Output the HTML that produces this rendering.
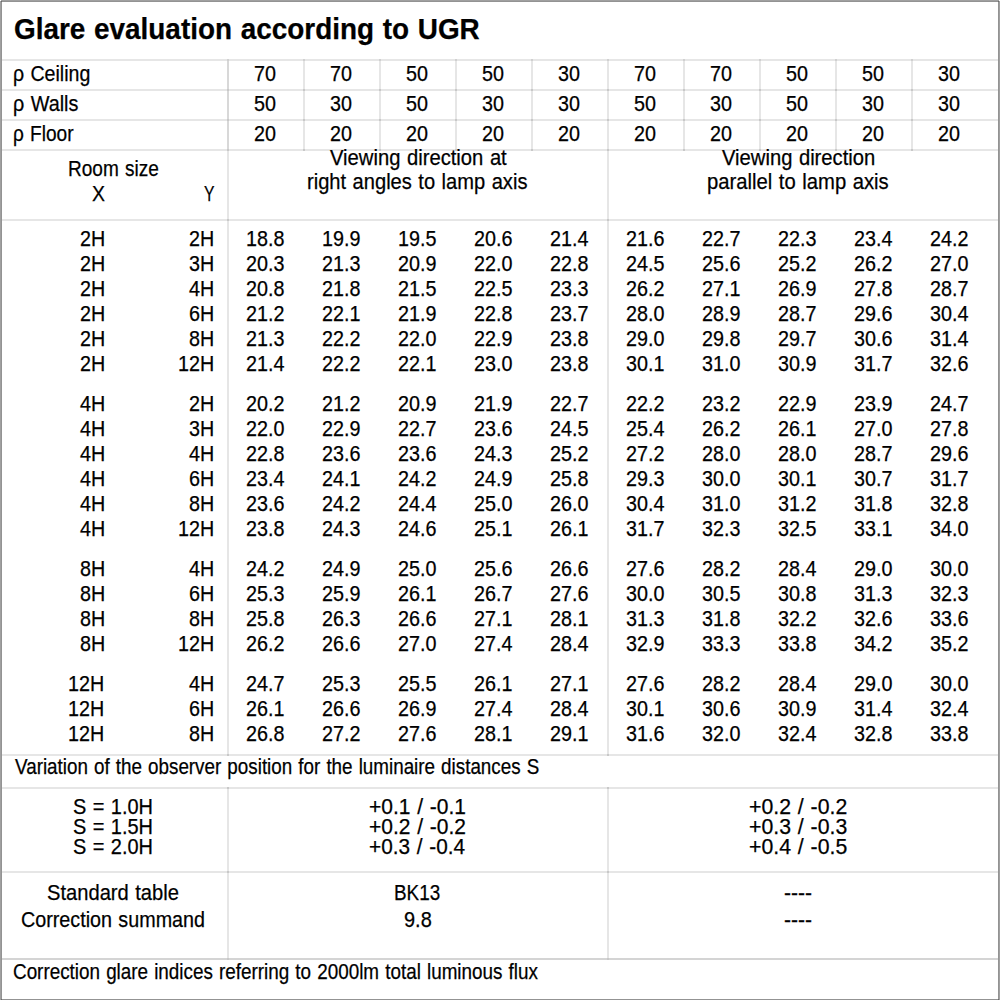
<!DOCTYPE html>
<html><head><meta charset="utf-8"><title>Glare evaluation according to UGR</title>
<style>
html,body{margin:0;padding:0;background:#fff;}
body{width:1000px;height:1000px;position:relative;overflow:hidden;font-family:"Liberation Sans",sans-serif;font-size:22px;line-height:22px;color:#000;}
.t{position:absolute;white-space:nowrap;transform-origin:0 0;-webkit-text-stroke:0.25px #000;word-spacing:1px;}
.l{position:absolute;}
</style></head><body>
<div class="l" style="left:1px;top:0;width:998px;height:1px;background:#a0a0a0"></div>
<div class="l" style="left:0;top:1px;width:1px;height:999px;background:#a0a0a0"></div>
<div class="l" style="left:999px;top:1px;width:1px;height:999px;background:#a0a0a0"></div>
<div class="l" style="left:2px;top:1px;width:996px;height:1px;background:#939393"></div>
<div class="l" style="left:1px;top:1px;width:1px;height:999px;background:#939393"></div>
<div class="l" style="left:998px;top:1px;width:1px;height:999px;background:#939393"></div>
<div class="l" style="left:2px;top:999px;width:996px;height:1px;background:#939393"></div>
<div class="l" style="left:1px;top:1px;width:1px;height:1px;background:#6a6a6a"></div>
<div class="l" style="left:998px;top:1px;width:1px;height:1px;background:#6a6a6a"></div>
<div class="l" style="left:1px;top:999px;width:1px;height:1px;background:#6a6a6a"></div>
<div class="l" style="left:998px;top:999px;width:1px;height:1px;background:#6a6a6a"></div>
<div class="l" style="left:2px;top:59px;width:996px;height:2px;background:#e6e6e6"></div>
<div class="l" style="left:2px;top:89px;width:996px;height:2px;background:#e6e6e6"></div>
<div class="l" style="left:2px;top:119px;width:996px;height:2px;background:#e6e6e6"></div>
<div class="l" style="left:2px;top:149px;width:996px;height:2px;background:#e6e6e6"></div>
<div class="l" style="left:2px;top:219px;width:996px;height:2px;background:#e6e6e6"></div>
<div class="l" style="left:2px;top:754px;width:996px;height:2px;background:#e6e6e6"></div>
<div class="l" style="left:2px;top:787px;width:996px;height:2px;background:#e6e6e6"></div>
<div class="l" style="left:2px;top:871px;width:996px;height:2px;background:#e6e6e6"></div>
<div class="l" style="left:2px;top:958px;width:996px;height:2px;background:#d4d4d4"></div>
<div class="l" style="left:227px;top:61px;width:2px;height:88px;background:#d8d8d8"></div>
<div class="l" style="left:227px;top:149px;width:2px;height:605px;background:#e6e6e6"></div>
<div class="l" style="left:227px;top:789px;width:2px;height:169px;background:#e6e6e6"></div>
<div class="l" style="left:607px;top:61px;width:2px;height:693px;background:#e6e6e6"></div>
<div class="l" style="left:607px;top:789px;width:2px;height:169px;background:#e6e6e6"></div>
<div class="l" style="left:303px;top:61px;width:2px;height:88px;background:#e6e6e6"></div>
<div class="l" style="left:379px;top:61px;width:2px;height:88px;background:#e6e6e6"></div>
<div class="l" style="left:455px;top:61px;width:2px;height:88px;background:#e6e6e6"></div>
<div class="l" style="left:531px;top:61px;width:2px;height:88px;background:#e6e6e6"></div>
<div class="l" style="left:683px;top:61px;width:2px;height:88px;background:#e6e6e6"></div>
<div class="l" style="left:759px;top:61px;width:2px;height:88px;background:#e6e6e6"></div>
<div class="l" style="left:835px;top:61px;width:2px;height:88px;background:#e6e6e6"></div>
<div class="l" style="left:911px;top:61px;width:2px;height:88px;background:#e6e6e6"></div>
<div class="l" style="left:227px;top:59px;width:2px;height:2px;background:#d0d0d0"></div>
<div class="l" style="left:227px;top:89px;width:2px;height:2px;background:#c8c8c8"></div>
<div class="l" style="left:227px;top:119px;width:2px;height:2px;background:#c8c8c8"></div>
<div class="l" style="left:227px;top:149px;width:2px;height:2px;background:#c8c8c8"></div>
<div class="l" style="left:303px;top:59px;width:2px;height:2px;background:#d0d0d0"></div>
<div class="l" style="left:303px;top:89px;width:2px;height:2px;background:#c8c8c8"></div>
<div class="l" style="left:303px;top:119px;width:2px;height:2px;background:#c8c8c8"></div>
<div class="l" style="left:303px;top:149px;width:2px;height:2px;background:#c8c8c8"></div>
<div class="l" style="left:379px;top:59px;width:2px;height:2px;background:#d0d0d0"></div>
<div class="l" style="left:379px;top:89px;width:2px;height:2px;background:#c8c8c8"></div>
<div class="l" style="left:379px;top:119px;width:2px;height:2px;background:#c8c8c8"></div>
<div class="l" style="left:379px;top:149px;width:2px;height:2px;background:#c8c8c8"></div>
<div class="l" style="left:455px;top:59px;width:2px;height:2px;background:#d0d0d0"></div>
<div class="l" style="left:455px;top:89px;width:2px;height:2px;background:#c8c8c8"></div>
<div class="l" style="left:455px;top:119px;width:2px;height:2px;background:#c8c8c8"></div>
<div class="l" style="left:455px;top:149px;width:2px;height:2px;background:#c8c8c8"></div>
<div class="l" style="left:531px;top:59px;width:2px;height:2px;background:#d0d0d0"></div>
<div class="l" style="left:531px;top:89px;width:2px;height:2px;background:#c8c8c8"></div>
<div class="l" style="left:531px;top:119px;width:2px;height:2px;background:#c8c8c8"></div>
<div class="l" style="left:531px;top:149px;width:2px;height:2px;background:#c8c8c8"></div>
<div class="l" style="left:607px;top:59px;width:2px;height:2px;background:#d0d0d0"></div>
<div class="l" style="left:607px;top:89px;width:2px;height:2px;background:#c8c8c8"></div>
<div class="l" style="left:607px;top:119px;width:2px;height:2px;background:#c8c8c8"></div>
<div class="l" style="left:607px;top:149px;width:2px;height:2px;background:#c8c8c8"></div>
<div class="l" style="left:683px;top:59px;width:2px;height:2px;background:#d0d0d0"></div>
<div class="l" style="left:683px;top:89px;width:2px;height:2px;background:#c8c8c8"></div>
<div class="l" style="left:683px;top:119px;width:2px;height:2px;background:#c8c8c8"></div>
<div class="l" style="left:683px;top:149px;width:2px;height:2px;background:#c8c8c8"></div>
<div class="l" style="left:759px;top:59px;width:2px;height:2px;background:#d0d0d0"></div>
<div class="l" style="left:759px;top:89px;width:2px;height:2px;background:#c8c8c8"></div>
<div class="l" style="left:759px;top:119px;width:2px;height:2px;background:#c8c8c8"></div>
<div class="l" style="left:759px;top:149px;width:2px;height:2px;background:#c8c8c8"></div>
<div class="l" style="left:835px;top:59px;width:2px;height:2px;background:#d0d0d0"></div>
<div class="l" style="left:835px;top:89px;width:2px;height:2px;background:#c8c8c8"></div>
<div class="l" style="left:835px;top:119px;width:2px;height:2px;background:#c8c8c8"></div>
<div class="l" style="left:835px;top:149px;width:2px;height:2px;background:#c8c8c8"></div>
<div class="l" style="left:911px;top:59px;width:2px;height:2px;background:#d0d0d0"></div>
<div class="l" style="left:911px;top:89px;width:2px;height:2px;background:#c8c8c8"></div>
<div class="l" style="left:911px;top:119px;width:2px;height:2px;background:#c8c8c8"></div>
<div class="l" style="left:911px;top:149px;width:2px;height:2px;background:#c8c8c8"></div>
<div class="l" style="left:227px;top:219px;width:2px;height:2px;background:#c8c8c8"></div>
<div class="l" style="left:227px;top:754px;width:2px;height:2px;background:#c8c8c8"></div>
<div class="l" style="left:227px;top:787px;width:2px;height:2px;background:#c8c8c8"></div>
<div class="l" style="left:227px;top:871px;width:2px;height:2px;background:#c8c8c8"></div>
<div class="l" style="left:227px;top:958px;width:2px;height:2px;background:#c8c8c8"></div>
<div class="l" style="left:607px;top:219px;width:2px;height:2px;background:#c8c8c8"></div>
<div class="l" style="left:607px;top:754px;width:2px;height:2px;background:#c8c8c8"></div>
<div class="l" style="left:607px;top:787px;width:2px;height:2px;background:#c8c8c8"></div>
<div class="l" style="left:607px;top:871px;width:2px;height:2px;background:#c8c8c8"></div>
<div class="l" style="left:607px;top:958px;width:2px;height:2px;background:#c8c8c8"></div>
<div class="t" style="top:14.50px;font-size:29px;line-height:29px;font-weight:bold;left:14.04px;transform:scaleX(0.9619);">Glare evaluation according to UGR</div>
<div class="t" style="top:62.50px;left:12.82px;transform:scaleX(0.8894);">ρ Ceiling</div>
<div class="t" style="top:92.50px;left:12.81px;transform:scaleX(0.9007);">ρ Walls</div>
<div class="t" style="top:122.50px;left:12.85px;transform:scaleX(0.8674);">ρ Floor</div>
<div class="t" style="top:62.50px;left:254.31px;transform:scaleX(0.8976);">70</div>
<div class="t" style="top:62.50px;left:330.31px;transform:scaleX(0.8976);">70</div>
<div class="t" style="top:62.50px;left:406.31px;transform:scaleX(0.8976);">50</div>
<div class="t" style="top:62.50px;left:482.31px;transform:scaleX(0.8976);">50</div>
<div class="t" style="top:62.50px;left:558.31px;transform:scaleX(0.8976);">30</div>
<div class="t" style="top:62.50px;left:634.31px;transform:scaleX(0.8976);">70</div>
<div class="t" style="top:62.50px;left:710.31px;transform:scaleX(0.8976);">70</div>
<div class="t" style="top:62.50px;left:786.31px;transform:scaleX(0.8976);">50</div>
<div class="t" style="top:62.50px;left:862.31px;transform:scaleX(0.8976);">50</div>
<div class="t" style="top:62.50px;left:938.31px;transform:scaleX(0.8976);">30</div>
<div class="t" style="top:92.50px;left:254.31px;transform:scaleX(0.8976);">50</div>
<div class="t" style="top:92.50px;left:330.31px;transform:scaleX(0.8976);">30</div>
<div class="t" style="top:92.50px;left:406.31px;transform:scaleX(0.8976);">50</div>
<div class="t" style="top:92.50px;left:482.31px;transform:scaleX(0.8976);">30</div>
<div class="t" style="top:92.50px;left:558.31px;transform:scaleX(0.8976);">30</div>
<div class="t" style="top:92.50px;left:634.31px;transform:scaleX(0.8976);">50</div>
<div class="t" style="top:92.50px;left:710.31px;transform:scaleX(0.8976);">30</div>
<div class="t" style="top:92.50px;left:786.31px;transform:scaleX(0.8976);">50</div>
<div class="t" style="top:92.50px;left:862.31px;transform:scaleX(0.8976);">30</div>
<div class="t" style="top:92.50px;left:938.31px;transform:scaleX(0.8976);">30</div>
<div class="t" style="top:122.50px;left:254.31px;transform:scaleX(0.8976);">20</div>
<div class="t" style="top:122.50px;left:330.31px;transform:scaleX(0.8976);">20</div>
<div class="t" style="top:122.50px;left:406.31px;transform:scaleX(0.8976);">20</div>
<div class="t" style="top:122.50px;left:482.31px;transform:scaleX(0.8976);">20</div>
<div class="t" style="top:122.50px;left:558.31px;transform:scaleX(0.8976);">20</div>
<div class="t" style="top:122.50px;left:634.31px;transform:scaleX(0.8976);">20</div>
<div class="t" style="top:122.50px;left:710.31px;transform:scaleX(0.8976);">20</div>
<div class="t" style="top:122.50px;left:786.31px;transform:scaleX(0.8976);">20</div>
<div class="t" style="top:122.50px;left:862.31px;transform:scaleX(0.8976);">20</div>
<div class="t" style="top:122.50px;left:938.31px;transform:scaleX(0.8976);">20</div>
<div class="t" style="top:157.50px;left:67.76px;transform:scaleX(0.8650);">Room size</div>
<div class="t" style="top:182.50px;left:92.12px;transform:scaleX(0.8846);">X</div>
<div class="t" style="top:182.50px;left:204.00px;transform:scaleX(0.7143);">Y</div>
<div class="t" style="top:146.50px;left:330.00px;transform:scaleX(0.9187);">Viewing direction at</div>
<div class="t" style="top:170.50px;left:306.93px;transform:scaleX(0.9138);">right angles to lamp axis</div>
<div class="t" style="top:146.50px;left:722.00px;transform:scaleX(0.9181);">Viewing direction</div>
<div class="t" style="top:170.50px;left:707.08px;transform:scaleX(0.9204);">parallel to lamp axis</div>
<div class="t" style="top:227.50px;left:79.71px;transform:scaleX(0.8976);">2H</div>
<div class="t" style="top:227.50px;left:188.77px;transform:scaleX(0.8976);">2H</div>
<div class="t" style="top:227.50px;left:246.08px;transform:scaleX(0.8976);">18.8</div>
<div class="t" style="top:227.50px;left:322.08px;transform:scaleX(0.8976);">19.9</div>
<div class="t" style="top:227.50px;left:398.08px;transform:scaleX(0.8976);">19.5</div>
<div class="t" style="top:227.50px;left:474.08px;transform:scaleX(0.8976);">20.6</div>
<div class="t" style="top:227.50px;left:550.08px;transform:scaleX(0.8976);">21.4</div>
<div class="t" style="top:227.50px;left:626.08px;transform:scaleX(0.8976);">21.6</div>
<div class="t" style="top:227.50px;left:702.08px;transform:scaleX(0.8976);">22.7</div>
<div class="t" style="top:227.50px;left:778.08px;transform:scaleX(0.8976);">22.3</div>
<div class="t" style="top:227.50px;left:854.08px;transform:scaleX(0.8976);">23.4</div>
<div class="t" style="top:227.50px;left:930.08px;transform:scaleX(0.8976);">24.2</div>
<div class="t" style="top:252.50px;left:79.71px;transform:scaleX(0.8976);">2H</div>
<div class="t" style="top:252.50px;left:188.77px;transform:scaleX(0.8976);">3H</div>
<div class="t" style="top:252.50px;left:246.08px;transform:scaleX(0.8976);">20.3</div>
<div class="t" style="top:252.50px;left:322.08px;transform:scaleX(0.8976);">21.3</div>
<div class="t" style="top:252.50px;left:398.08px;transform:scaleX(0.8976);">20.9</div>
<div class="t" style="top:252.50px;left:474.08px;transform:scaleX(0.8976);">22.0</div>
<div class="t" style="top:252.50px;left:550.08px;transform:scaleX(0.8976);">22.8</div>
<div class="t" style="top:252.50px;left:626.08px;transform:scaleX(0.8976);">24.5</div>
<div class="t" style="top:252.50px;left:702.08px;transform:scaleX(0.8976);">25.6</div>
<div class="t" style="top:252.50px;left:778.08px;transform:scaleX(0.8976);">25.2</div>
<div class="t" style="top:252.50px;left:854.08px;transform:scaleX(0.8976);">26.2</div>
<div class="t" style="top:252.50px;left:930.08px;transform:scaleX(0.8976);">27.0</div>
<div class="t" style="top:277.50px;left:79.71px;transform:scaleX(0.8976);">2H</div>
<div class="t" style="top:277.50px;left:188.77px;transform:scaleX(0.8976);">4H</div>
<div class="t" style="top:277.50px;left:246.08px;transform:scaleX(0.8976);">20.8</div>
<div class="t" style="top:277.50px;left:322.08px;transform:scaleX(0.8976);">21.8</div>
<div class="t" style="top:277.50px;left:398.08px;transform:scaleX(0.8976);">21.5</div>
<div class="t" style="top:277.50px;left:474.08px;transform:scaleX(0.8976);">22.5</div>
<div class="t" style="top:277.50px;left:550.08px;transform:scaleX(0.8976);">23.3</div>
<div class="t" style="top:277.50px;left:626.08px;transform:scaleX(0.8976);">26.2</div>
<div class="t" style="top:277.50px;left:702.08px;transform:scaleX(0.8976);">27.1</div>
<div class="t" style="top:277.50px;left:778.08px;transform:scaleX(0.8976);">26.9</div>
<div class="t" style="top:277.50px;left:854.08px;transform:scaleX(0.8976);">27.8</div>
<div class="t" style="top:277.50px;left:930.08px;transform:scaleX(0.8976);">28.7</div>
<div class="t" style="top:302.50px;left:79.71px;transform:scaleX(0.8976);">2H</div>
<div class="t" style="top:302.50px;left:188.77px;transform:scaleX(0.8976);">6H</div>
<div class="t" style="top:302.50px;left:246.08px;transform:scaleX(0.8976);">21.2</div>
<div class="t" style="top:302.50px;left:322.08px;transform:scaleX(0.8976);">22.1</div>
<div class="t" style="top:302.50px;left:398.08px;transform:scaleX(0.8976);">21.9</div>
<div class="t" style="top:302.50px;left:474.08px;transform:scaleX(0.8976);">22.8</div>
<div class="t" style="top:302.50px;left:550.08px;transform:scaleX(0.8976);">23.7</div>
<div class="t" style="top:302.50px;left:626.08px;transform:scaleX(0.8976);">28.0</div>
<div class="t" style="top:302.50px;left:702.08px;transform:scaleX(0.8976);">28.9</div>
<div class="t" style="top:302.50px;left:778.08px;transform:scaleX(0.8976);">28.7</div>
<div class="t" style="top:302.50px;left:854.08px;transform:scaleX(0.8976);">29.6</div>
<div class="t" style="top:302.50px;left:930.08px;transform:scaleX(0.8976);">30.4</div>
<div class="t" style="top:327.50px;left:79.71px;transform:scaleX(0.8976);">2H</div>
<div class="t" style="top:327.50px;left:188.77px;transform:scaleX(0.8976);">8H</div>
<div class="t" style="top:327.50px;left:246.08px;transform:scaleX(0.8976);">21.3</div>
<div class="t" style="top:327.50px;left:322.08px;transform:scaleX(0.8976);">22.2</div>
<div class="t" style="top:327.50px;left:398.08px;transform:scaleX(0.8976);">22.0</div>
<div class="t" style="top:327.50px;left:474.08px;transform:scaleX(0.8976);">22.9</div>
<div class="t" style="top:327.50px;left:550.08px;transform:scaleX(0.8976);">23.8</div>
<div class="t" style="top:327.50px;left:626.08px;transform:scaleX(0.8976);">29.0</div>
<div class="t" style="top:327.50px;left:702.08px;transform:scaleX(0.8976);">29.8</div>
<div class="t" style="top:327.50px;left:778.08px;transform:scaleX(0.8976);">29.7</div>
<div class="t" style="top:327.50px;left:854.08px;transform:scaleX(0.8976);">30.6</div>
<div class="t" style="top:327.50px;left:930.08px;transform:scaleX(0.8976);">31.4</div>
<div class="t" style="top:352.50px;left:79.71px;transform:scaleX(0.8976);">2H</div>
<div class="t" style="top:352.50px;left:178.00px;transform:scaleX(0.8976);">12H</div>
<div class="t" style="top:352.50px;left:246.08px;transform:scaleX(0.8976);">21.4</div>
<div class="t" style="top:352.50px;left:322.08px;transform:scaleX(0.8976);">22.2</div>
<div class="t" style="top:352.50px;left:398.08px;transform:scaleX(0.8976);">22.1</div>
<div class="t" style="top:352.50px;left:474.08px;transform:scaleX(0.8976);">23.0</div>
<div class="t" style="top:352.50px;left:550.08px;transform:scaleX(0.8976);">23.8</div>
<div class="t" style="top:352.50px;left:626.08px;transform:scaleX(0.8976);">30.1</div>
<div class="t" style="top:352.50px;left:702.08px;transform:scaleX(0.8976);">31.0</div>
<div class="t" style="top:352.50px;left:778.08px;transform:scaleX(0.8976);">30.9</div>
<div class="t" style="top:352.50px;left:854.08px;transform:scaleX(0.8976);">31.7</div>
<div class="t" style="top:352.50px;left:930.08px;transform:scaleX(0.8976);">32.6</div>
<div class="t" style="top:392.50px;left:79.71px;transform:scaleX(0.8976);">4H</div>
<div class="t" style="top:392.50px;left:188.77px;transform:scaleX(0.8976);">2H</div>
<div class="t" style="top:392.50px;left:246.08px;transform:scaleX(0.8976);">20.2</div>
<div class="t" style="top:392.50px;left:322.08px;transform:scaleX(0.8976);">21.2</div>
<div class="t" style="top:392.50px;left:398.08px;transform:scaleX(0.8976);">20.9</div>
<div class="t" style="top:392.50px;left:474.08px;transform:scaleX(0.8976);">21.9</div>
<div class="t" style="top:392.50px;left:550.08px;transform:scaleX(0.8976);">22.7</div>
<div class="t" style="top:392.50px;left:626.08px;transform:scaleX(0.8976);">22.2</div>
<div class="t" style="top:392.50px;left:702.08px;transform:scaleX(0.8976);">23.2</div>
<div class="t" style="top:392.50px;left:778.08px;transform:scaleX(0.8976);">22.9</div>
<div class="t" style="top:392.50px;left:854.08px;transform:scaleX(0.8976);">23.9</div>
<div class="t" style="top:392.50px;left:930.08px;transform:scaleX(0.8976);">24.7</div>
<div class="t" style="top:417.50px;left:79.71px;transform:scaleX(0.8976);">4H</div>
<div class="t" style="top:417.50px;left:188.77px;transform:scaleX(0.8976);">3H</div>
<div class="t" style="top:417.50px;left:246.08px;transform:scaleX(0.8976);">22.0</div>
<div class="t" style="top:417.50px;left:322.08px;transform:scaleX(0.8976);">22.9</div>
<div class="t" style="top:417.50px;left:398.08px;transform:scaleX(0.8976);">22.7</div>
<div class="t" style="top:417.50px;left:474.08px;transform:scaleX(0.8976);">23.6</div>
<div class="t" style="top:417.50px;left:550.08px;transform:scaleX(0.8976);">24.5</div>
<div class="t" style="top:417.50px;left:626.08px;transform:scaleX(0.8976);">25.4</div>
<div class="t" style="top:417.50px;left:702.08px;transform:scaleX(0.8976);">26.2</div>
<div class="t" style="top:417.50px;left:778.08px;transform:scaleX(0.8976);">26.1</div>
<div class="t" style="top:417.50px;left:854.08px;transform:scaleX(0.8976);">27.0</div>
<div class="t" style="top:417.50px;left:930.08px;transform:scaleX(0.8976);">27.8</div>
<div class="t" style="top:442.50px;left:79.71px;transform:scaleX(0.8976);">4H</div>
<div class="t" style="top:442.50px;left:188.77px;transform:scaleX(0.8976);">4H</div>
<div class="t" style="top:442.50px;left:246.08px;transform:scaleX(0.8976);">22.8</div>
<div class="t" style="top:442.50px;left:322.08px;transform:scaleX(0.8976);">23.6</div>
<div class="t" style="top:442.50px;left:398.08px;transform:scaleX(0.8976);">23.6</div>
<div class="t" style="top:442.50px;left:474.08px;transform:scaleX(0.8976);">24.3</div>
<div class="t" style="top:442.50px;left:550.08px;transform:scaleX(0.8976);">25.2</div>
<div class="t" style="top:442.50px;left:626.08px;transform:scaleX(0.8976);">27.2</div>
<div class="t" style="top:442.50px;left:702.08px;transform:scaleX(0.8976);">28.0</div>
<div class="t" style="top:442.50px;left:778.08px;transform:scaleX(0.8976);">28.0</div>
<div class="t" style="top:442.50px;left:854.08px;transform:scaleX(0.8976);">28.7</div>
<div class="t" style="top:442.50px;left:930.08px;transform:scaleX(0.8976);">29.6</div>
<div class="t" style="top:467.50px;left:79.71px;transform:scaleX(0.8976);">4H</div>
<div class="t" style="top:467.50px;left:188.77px;transform:scaleX(0.8976);">6H</div>
<div class="t" style="top:467.50px;left:246.08px;transform:scaleX(0.8976);">23.4</div>
<div class="t" style="top:467.50px;left:322.08px;transform:scaleX(0.8976);">24.1</div>
<div class="t" style="top:467.50px;left:398.08px;transform:scaleX(0.8976);">24.2</div>
<div class="t" style="top:467.50px;left:474.08px;transform:scaleX(0.8976);">24.9</div>
<div class="t" style="top:467.50px;left:550.08px;transform:scaleX(0.8976);">25.8</div>
<div class="t" style="top:467.50px;left:626.08px;transform:scaleX(0.8976);">29.3</div>
<div class="t" style="top:467.50px;left:702.08px;transform:scaleX(0.8976);">30.0</div>
<div class="t" style="top:467.50px;left:778.08px;transform:scaleX(0.8976);">30.1</div>
<div class="t" style="top:467.50px;left:854.08px;transform:scaleX(0.8976);">30.7</div>
<div class="t" style="top:467.50px;left:930.08px;transform:scaleX(0.8976);">31.7</div>
<div class="t" style="top:492.50px;left:79.71px;transform:scaleX(0.8976);">4H</div>
<div class="t" style="top:492.50px;left:188.77px;transform:scaleX(0.8976);">8H</div>
<div class="t" style="top:492.50px;left:246.08px;transform:scaleX(0.8976);">23.6</div>
<div class="t" style="top:492.50px;left:322.08px;transform:scaleX(0.8976);">24.2</div>
<div class="t" style="top:492.50px;left:398.08px;transform:scaleX(0.8976);">24.4</div>
<div class="t" style="top:492.50px;left:474.08px;transform:scaleX(0.8976);">25.0</div>
<div class="t" style="top:492.50px;left:550.08px;transform:scaleX(0.8976);">26.0</div>
<div class="t" style="top:492.50px;left:626.08px;transform:scaleX(0.8976);">30.4</div>
<div class="t" style="top:492.50px;left:702.08px;transform:scaleX(0.8976);">31.0</div>
<div class="t" style="top:492.50px;left:778.08px;transform:scaleX(0.8976);">31.2</div>
<div class="t" style="top:492.50px;left:854.08px;transform:scaleX(0.8976);">31.8</div>
<div class="t" style="top:492.50px;left:930.08px;transform:scaleX(0.8976);">32.8</div>
<div class="t" style="top:517.50px;left:79.71px;transform:scaleX(0.8976);">4H</div>
<div class="t" style="top:517.50px;left:178.00px;transform:scaleX(0.8976);">12H</div>
<div class="t" style="top:517.50px;left:246.08px;transform:scaleX(0.8976);">23.8</div>
<div class="t" style="top:517.50px;left:322.08px;transform:scaleX(0.8976);">24.3</div>
<div class="t" style="top:517.50px;left:398.08px;transform:scaleX(0.8976);">24.6</div>
<div class="t" style="top:517.50px;left:474.08px;transform:scaleX(0.8976);">25.1</div>
<div class="t" style="top:517.50px;left:550.08px;transform:scaleX(0.8976);">26.1</div>
<div class="t" style="top:517.50px;left:626.08px;transform:scaleX(0.8976);">31.7</div>
<div class="t" style="top:517.50px;left:702.08px;transform:scaleX(0.8976);">32.3</div>
<div class="t" style="top:517.50px;left:778.08px;transform:scaleX(0.8976);">32.5</div>
<div class="t" style="top:517.50px;left:854.08px;transform:scaleX(0.8976);">33.1</div>
<div class="t" style="top:517.50px;left:930.08px;transform:scaleX(0.8976);">34.0</div>
<div class="t" style="top:557.50px;left:79.71px;transform:scaleX(0.8976);">8H</div>
<div class="t" style="top:557.50px;left:188.77px;transform:scaleX(0.8976);">4H</div>
<div class="t" style="top:557.50px;left:246.08px;transform:scaleX(0.8976);">24.2</div>
<div class="t" style="top:557.50px;left:322.08px;transform:scaleX(0.8976);">24.9</div>
<div class="t" style="top:557.50px;left:398.08px;transform:scaleX(0.8976);">25.0</div>
<div class="t" style="top:557.50px;left:474.08px;transform:scaleX(0.8976);">25.6</div>
<div class="t" style="top:557.50px;left:550.08px;transform:scaleX(0.8976);">26.6</div>
<div class="t" style="top:557.50px;left:626.08px;transform:scaleX(0.8976);">27.6</div>
<div class="t" style="top:557.50px;left:702.08px;transform:scaleX(0.8976);">28.2</div>
<div class="t" style="top:557.50px;left:778.08px;transform:scaleX(0.8976);">28.4</div>
<div class="t" style="top:557.50px;left:854.08px;transform:scaleX(0.8976);">29.0</div>
<div class="t" style="top:557.50px;left:930.08px;transform:scaleX(0.8976);">30.0</div>
<div class="t" style="top:582.50px;left:79.71px;transform:scaleX(0.8976);">8H</div>
<div class="t" style="top:582.50px;left:188.77px;transform:scaleX(0.8976);">6H</div>
<div class="t" style="top:582.50px;left:246.08px;transform:scaleX(0.8976);">25.3</div>
<div class="t" style="top:582.50px;left:322.08px;transform:scaleX(0.8976);">25.9</div>
<div class="t" style="top:582.50px;left:398.08px;transform:scaleX(0.8976);">26.1</div>
<div class="t" style="top:582.50px;left:474.08px;transform:scaleX(0.8976);">26.7</div>
<div class="t" style="top:582.50px;left:550.08px;transform:scaleX(0.8976);">27.6</div>
<div class="t" style="top:582.50px;left:626.08px;transform:scaleX(0.8976);">30.0</div>
<div class="t" style="top:582.50px;left:702.08px;transform:scaleX(0.8976);">30.5</div>
<div class="t" style="top:582.50px;left:778.08px;transform:scaleX(0.8976);">30.8</div>
<div class="t" style="top:582.50px;left:854.08px;transform:scaleX(0.8976);">31.3</div>
<div class="t" style="top:582.50px;left:930.08px;transform:scaleX(0.8976);">32.3</div>
<div class="t" style="top:607.50px;left:79.71px;transform:scaleX(0.8976);">8H</div>
<div class="t" style="top:607.50px;left:188.77px;transform:scaleX(0.8976);">8H</div>
<div class="t" style="top:607.50px;left:246.08px;transform:scaleX(0.8976);">25.8</div>
<div class="t" style="top:607.50px;left:322.08px;transform:scaleX(0.8976);">26.3</div>
<div class="t" style="top:607.50px;left:398.08px;transform:scaleX(0.8976);">26.6</div>
<div class="t" style="top:607.50px;left:474.08px;transform:scaleX(0.8976);">27.1</div>
<div class="t" style="top:607.50px;left:550.08px;transform:scaleX(0.8976);">28.1</div>
<div class="t" style="top:607.50px;left:626.08px;transform:scaleX(0.8976);">31.3</div>
<div class="t" style="top:607.50px;left:702.08px;transform:scaleX(0.8976);">31.8</div>
<div class="t" style="top:607.50px;left:778.08px;transform:scaleX(0.8976);">32.2</div>
<div class="t" style="top:607.50px;left:854.08px;transform:scaleX(0.8976);">32.6</div>
<div class="t" style="top:607.50px;left:930.08px;transform:scaleX(0.8976);">33.6</div>
<div class="t" style="top:632.50px;left:79.71px;transform:scaleX(0.8976);">8H</div>
<div class="t" style="top:632.50px;left:178.00px;transform:scaleX(0.8976);">12H</div>
<div class="t" style="top:632.50px;left:246.08px;transform:scaleX(0.8976);">26.2</div>
<div class="t" style="top:632.50px;left:322.08px;transform:scaleX(0.8976);">26.6</div>
<div class="t" style="top:632.50px;left:398.08px;transform:scaleX(0.8976);">27.0</div>
<div class="t" style="top:632.50px;left:474.08px;transform:scaleX(0.8976);">27.4</div>
<div class="t" style="top:632.50px;left:550.08px;transform:scaleX(0.8976);">28.4</div>
<div class="t" style="top:632.50px;left:626.08px;transform:scaleX(0.8976);">32.9</div>
<div class="t" style="top:632.50px;left:702.08px;transform:scaleX(0.8976);">33.3</div>
<div class="t" style="top:632.50px;left:778.08px;transform:scaleX(0.8976);">33.8</div>
<div class="t" style="top:632.50px;left:854.08px;transform:scaleX(0.8976);">34.2</div>
<div class="t" style="top:632.50px;left:930.08px;transform:scaleX(0.8976);">35.2</div>
<div class="t" style="top:672.50px;left:68.05px;transform:scaleX(0.8976);">12H</div>
<div class="t" style="top:672.50px;left:188.77px;transform:scaleX(0.8976);">4H</div>
<div class="t" style="top:672.50px;left:246.08px;transform:scaleX(0.8976);">24.7</div>
<div class="t" style="top:672.50px;left:322.08px;transform:scaleX(0.8976);">25.3</div>
<div class="t" style="top:672.50px;left:398.08px;transform:scaleX(0.8976);">25.5</div>
<div class="t" style="top:672.50px;left:474.08px;transform:scaleX(0.8976);">26.1</div>
<div class="t" style="top:672.50px;left:550.08px;transform:scaleX(0.8976);">27.1</div>
<div class="t" style="top:672.50px;left:626.08px;transform:scaleX(0.8976);">27.6</div>
<div class="t" style="top:672.50px;left:702.08px;transform:scaleX(0.8976);">28.2</div>
<div class="t" style="top:672.50px;left:778.08px;transform:scaleX(0.8976);">28.4</div>
<div class="t" style="top:672.50px;left:854.08px;transform:scaleX(0.8976);">29.0</div>
<div class="t" style="top:672.50px;left:930.08px;transform:scaleX(0.8976);">30.0</div>
<div class="t" style="top:697.50px;left:68.05px;transform:scaleX(0.8976);">12H</div>
<div class="t" style="top:697.50px;left:188.77px;transform:scaleX(0.8976);">6H</div>
<div class="t" style="top:697.50px;left:246.08px;transform:scaleX(0.8976);">26.1</div>
<div class="t" style="top:697.50px;left:322.08px;transform:scaleX(0.8976);">26.6</div>
<div class="t" style="top:697.50px;left:398.08px;transform:scaleX(0.8976);">26.9</div>
<div class="t" style="top:697.50px;left:474.08px;transform:scaleX(0.8976);">27.4</div>
<div class="t" style="top:697.50px;left:550.08px;transform:scaleX(0.8976);">28.4</div>
<div class="t" style="top:697.50px;left:626.08px;transform:scaleX(0.8976);">30.1</div>
<div class="t" style="top:697.50px;left:702.08px;transform:scaleX(0.8976);">30.6</div>
<div class="t" style="top:697.50px;left:778.08px;transform:scaleX(0.8976);">30.9</div>
<div class="t" style="top:697.50px;left:854.08px;transform:scaleX(0.8976);">31.4</div>
<div class="t" style="top:697.50px;left:930.08px;transform:scaleX(0.8976);">32.4</div>
<div class="t" style="top:722.50px;left:68.05px;transform:scaleX(0.8976);">12H</div>
<div class="t" style="top:722.50px;left:188.77px;transform:scaleX(0.8976);">8H</div>
<div class="t" style="top:722.50px;left:246.08px;transform:scaleX(0.8976);">26.8</div>
<div class="t" style="top:722.50px;left:322.08px;transform:scaleX(0.8976);">27.2</div>
<div class="t" style="top:722.50px;left:398.08px;transform:scaleX(0.8976);">27.6</div>
<div class="t" style="top:722.50px;left:474.08px;transform:scaleX(0.8976);">28.1</div>
<div class="t" style="top:722.50px;left:550.08px;transform:scaleX(0.8976);">29.1</div>
<div class="t" style="top:722.50px;left:626.08px;transform:scaleX(0.8976);">31.6</div>
<div class="t" style="top:722.50px;left:702.08px;transform:scaleX(0.8976);">32.0</div>
<div class="t" style="top:722.50px;left:778.08px;transform:scaleX(0.8976);">32.4</div>
<div class="t" style="top:722.50px;left:854.08px;transform:scaleX(0.8976);">32.8</div>
<div class="t" style="top:722.50px;left:930.08px;transform:scaleX(0.8976);">33.8</div>
<div class="t" style="top:755.50px;left:14.55px;transform:scaleX(0.8557);">Variation of the observer position for the luminaire distances S</div>
<div class="t" style="top:795.50px;left:73.46px;transform:scaleX(0.9070);">S = 1.0H</div>
<div class="t" style="top:795.50px;left:369.42px;transform:scaleX(0.9540);">+0.1 / -0.1</div>
<div class="t" style="top:795.50px;left:748.83px;transform:scaleX(0.9660);">+0.2 / -0.2</div>
<div class="t" style="top:815.50px;left:73.46px;transform:scaleX(0.9070);">S = 1.5H</div>
<div class="t" style="top:815.50px;left:369.42px;transform:scaleX(0.9540);">+0.2 / -0.2</div>
<div class="t" style="top:815.50px;left:748.83px;transform:scaleX(0.9660);">+0.3 / -0.3</div>
<div class="t" style="top:835.50px;left:73.46px;transform:scaleX(0.9070);">S = 2.0H</div>
<div class="t" style="top:835.50px;left:369.43px;transform:scaleX(0.9446);">+0.3 / -0.4</div>
<div class="t" style="top:835.50px;left:748.83px;transform:scaleX(0.9660);">+0.4 / -0.5</div>
<div class="t" style="top:881.50px;left:47.08px;transform:scaleX(0.9155);">Standard table</div>
<div class="t" style="top:908.50px;left:21.10px;transform:scaleX(0.8966);">Correction summand</div>
<div class="t" style="top:881.50px;left:394.28px;transform:scaleX(0.8588);">BK13</div>
<div class="t" style="top:908.50px;left:403.51px;transform:scaleX(0.9069);">9.8</div>
<div class="t" style="top:881.50px;left:784.21px;transform:scaleX(0.9571);">----</div>
<div class="t" style="top:908.50px;left:784.21px;transform:scaleX(0.9571);">----</div>
<div class="t" style="top:961.00px;left:13.07px;transform:scaleX(0.8576);">Correction glare indices referring to 2000lm total luminous flux</div>
</body></html>
